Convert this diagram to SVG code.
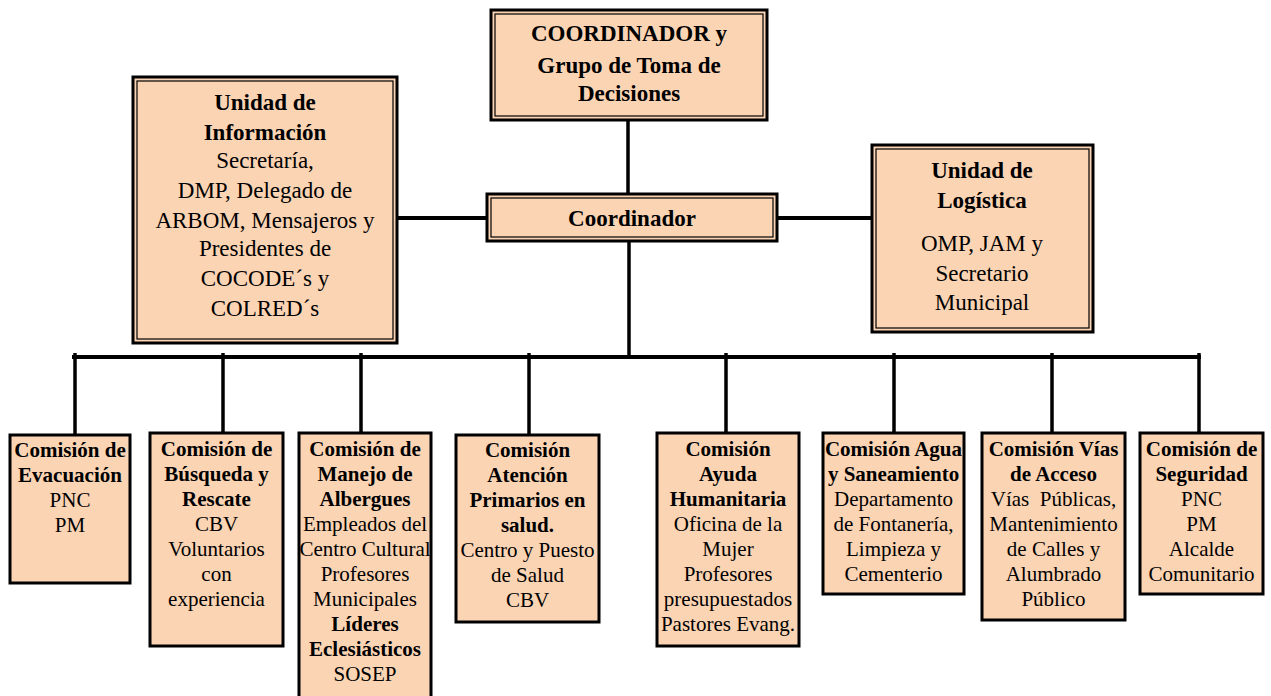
<svg xmlns="http://www.w3.org/2000/svg" width="1271" height="696" viewBox="0 0 1271 696">
<style>
.box{fill:#FBD4B4;stroke:#000;stroke-width:3}
.inner{fill:none;stroke:#000;stroke-width:1.2}
.c{stroke:#000;fill:none;stroke-linecap:butt}
text{font-family:'Liberation Serif','Times New Roman','DejaVu Serif',serif;fill:#000;text-anchor:middle}
.t1{font-size:23px}
.t2{font-size:21px}
.b{font-weight:bold}
</style>
<rect width="1271" height="696" fill="#fff"/>
<g id="connectors">
<line class="c" x1="628" y1="120" x2="628" y2="194" stroke-width="3.5"/>
<line class="c" x1="397" y1="218" x2="487" y2="218" stroke-width="4"/>
<line class="c" x1="777" y1="218" x2="871" y2="218" stroke-width="4"/>
<line class="c" x1="629" y1="241" x2="629" y2="355" stroke-width="3.5"/>
<line class="c" x1="72" y1="357" x2="1201" y2="357" stroke-width="4"/>
<line class="c" x1="75" y1="353" x2="75" y2="435" stroke-width="3.5"/>
<line class="c" x1="223" y1="353" x2="223" y2="433" stroke-width="3.5"/>
<line class="c" x1="361" y1="353" x2="361" y2="433" stroke-width="3.5"/>
<line class="c" x1="529" y1="353" x2="529" y2="435" stroke-width="3.5"/>
<line class="c" x1="726" y1="353" x2="726" y2="433" stroke-width="3.5"/>
<line class="c" x1="894" y1="353" x2="894" y2="433" stroke-width="3.5"/>
<line class="c" x1="1052" y1="353" x2="1052" y2="433" stroke-width="3.5"/>
<line class="c" x1="1199" y1="353" x2="1199" y2="433" stroke-width="3.5"/>
</g>
<g id="top">
<rect class="box" x="491" y="10" width="276" height="110"/>
<rect class="inner" x="495" y="14" width="268" height="102"/>
<text class="t1 b" x="629" y="41">COORDINADOR y</text>
<text class="t1 b" x="629" y="73">Grupo de Toma de</text>
<text class="t1 b" x="629" y="101">Decisiones</text>
</g>
<g id="info">
<rect class="box" x="133" y="77" width="264" height="266"/>
<rect class="inner" x="137" y="81" width="256" height="258"/>
<text class="t1 b" x="265" y="110">Unidad de</text>
<text class="t1 b" x="265" y="140">Información</text>
<text class="t1" x="265" y="168">Secretaría,</text>
<text class="t1" x="265" y="198">DMP, Delegado de</text>
<text class="t1" x="265" y="228">ARBOM, Mensajeros y</text>
<text class="t1" x="265" y="256">Presidentes de</text>
<text class="t1" x="265" y="286">COCODE´s y</text>
<text class="t1" x="265" y="316">COLRED´s</text>
</g>
<g id="coordinador">
<rect class="box" x="487" y="194" width="290" height="47"/>
<rect class="inner" x="491" y="198" width="282" height="39"/>
<text class="t1 b" x="632" y="226">Coordinador</text>
</g>
<g id="logistica">
<rect class="box" x="872" y="145" width="221" height="187"/>
<rect class="inner" x="876" y="149" width="213" height="179"/>
<text class="t1 b" x="982" y="178">Unidad de</text>
<text class="t1 b" x="982" y="208">Logística</text>
<text class="t1" x="982" y="251">OMP, JAM y</text>
<text class="t1" x="982" y="281">Secretario</text>
<text class="t1" x="982" y="310">Municipal</text>
</g>
<g id="evacuacion">
<rect class="box" x="10" y="435" width="120" height="148"/>
<text class="t2 b" x="70" y="457">Comisión de</text>
<text class="t2 b" x="70" y="482">Evacuación</text>
<text class="t2" x="70" y="507">PNC</text>
<text class="t2" x="70" y="532">PM</text>
</g>
<g id="busqueda">
<rect class="box" x="150" y="433" width="133" height="213"/>
<text class="t2 b" x="216.5" y="456">Comisión de</text>
<text class="t2 b" x="216.5" y="481">Búsqueda y</text>
<text class="t2 b" x="216.5" y="506">Rescate</text>
<text class="t2" x="216.5" y="531">CBV</text>
<text class="t2" x="216.5" y="556">Voluntarios</text>
<text class="t2" x="216.5" y="581">con</text>
<text class="t2" x="216.5" y="606">experiencia</text>
</g>
<g id="albergues">
<rect class="box" x="299" y="433" width="132" height="270"/>
<text class="t2 b" x="365" y="456">Comisión de</text>
<text class="t2 b" x="365" y="481">Manejo de</text>
<text class="t2 b" x="365" y="506">Albergues</text>
<text class="t2" x="365" y="531">Empleados del</text>
<text class="t2" x="365" y="556">Centro Cultural</text>
<text class="t2" x="365" y="581">Profesores</text>
<text class="t2" x="365" y="606">Municipales</text>
<text class="t2 b" x="365" y="631">Líderes</text>
<text class="t2 b" x="365" y="656">Eclesiásticos</text>
<text class="t2" x="365" y="681">SOSEP</text>
</g>
<g id="salud">
<rect class="box" x="456" y="435" width="143" height="187"/>
<text class="t2 b" x="527.5" y="457">Comisión</text>
<text class="t2 b" x="527.5" y="482">Atención</text>
<text class="t2 b" x="527.5" y="507">Primarios en</text>
<text class="t2 b" x="527.5" y="532">salud.</text>
<text class="t2" x="527.5" y="557">Centro y Puesto</text>
<text class="t2" x="527.5" y="582">de Salud</text>
<text class="t2" x="527.5" y="607">CBV</text>
</g>
<g id="humanitaria">
<rect class="box" x="657" y="433" width="142" height="213"/>
<text class="t2 b" x="728" y="456">Comisión</text>
<text class="t2 b" x="728" y="481">Ayuda</text>
<text class="t2 b" x="728" y="506">Humanitaria</text>
<text class="t2" x="728" y="531">Oficina de la</text>
<text class="t2" x="728" y="556">Mujer</text>
<text class="t2" x="728" y="581">Profesores</text>
<text class="t2" x="728" y="606">presupuestados</text>
<text class="t2" x="728" y="631">Pastores Evang.</text>
</g>
<g id="agua">
<rect class="box" x="823" y="433" width="141" height="161"/>
<text class="t2 b" x="893.5" y="456">Comisión Agua</text>
<text class="t2 b" x="893.5" y="481">y Saneamiento</text>
<text class="t2" x="893.5" y="506">Departamento</text>
<text class="t2" x="893.5" y="531">de Fontanería,</text>
<text class="t2" x="893.5" y="556">Limpieza y</text>
<text class="t2" x="893.5" y="581">Cementerio</text>
</g>
<g id="vias">
<rect class="box" x="982" y="433" width="143" height="187"/>
<text class="t2 b" x="1053.5" y="456">Comisión Vías</text>
<text class="t2 b" x="1053.5" y="481">de Acceso</text>
<text class="t2" x="1053.5" y="506" xml:space="preserve">Vías  Públicas,</text>
<text class="t2" x="1053.5" y="531">Mantenimiento</text>
<text class="t2" x="1053.5" y="556">de Calles y</text>
<text class="t2" x="1053.5" y="581">Alumbrado</text>
<text class="t2" x="1053.5" y="606">Público</text>
</g>
<g id="seguridad">
<rect class="box" x="1140" y="433" width="123" height="161"/>
<text class="t2 b" x="1201.5" y="456">Comisión de</text>
<text class="t2 b" x="1201.5" y="481">Seguridad</text>
<text class="t2" x="1201.5" y="506">PNC</text>
<text class="t2" x="1201.5" y="531">PM</text>
<text class="t2" x="1201.5" y="556">Alcalde</text>
<text class="t2" x="1201.5" y="581">Comunitario</text>
</g>
</svg>
